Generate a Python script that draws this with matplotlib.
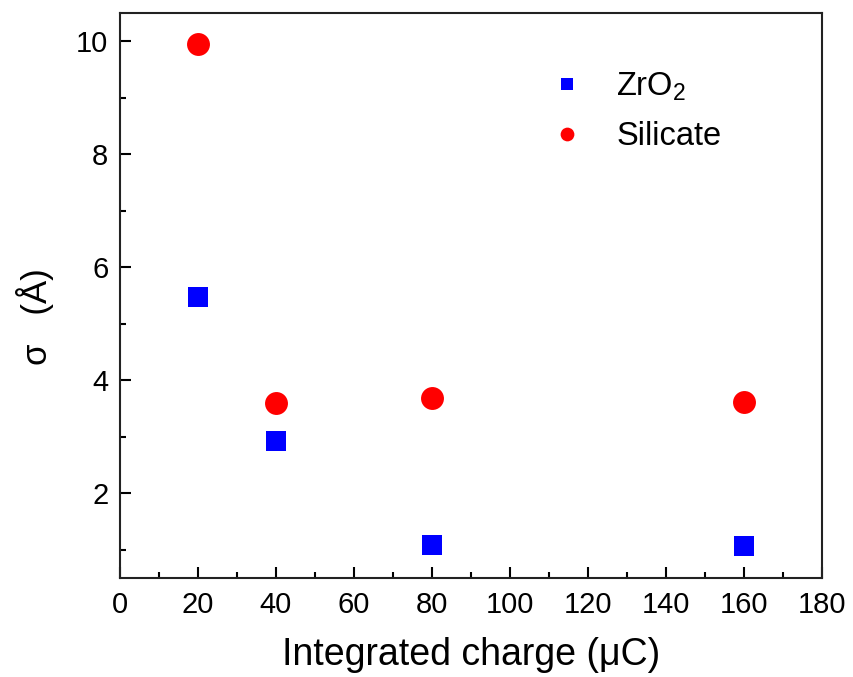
import matplotlib
matplotlib.use("Agg")
import matplotlib.pyplot as plt
from matplotlib.ticker import MultipleLocator

plt.rcParams['font.family'] = ['Liberation Sans', 'DejaVu Sans']
plt.rcParams['mathtext.fontset'] = 'custom'
plt.rcParams['mathtext.rm'] = 'Liberation Sans'
plt.rcParams['mathtext.it'] = 'Liberation Sans'

charge = [20, 40, 80, 160]
zro2 = [5.47, 2.92, 1.08, 1.07]
silicate = [9.96, 3.60, 3.69, 3.61]

fig = plt.figure(figsize=(8.54, 6.77), dpi=100)
ax = fig.add_axes([0.140, 0.1462, 0.8225, 0.8346])

ax.plot(charge, zro2, linestyle='none', marker='s', color='#0000ff', markersize=14.4,
        markeredgewidth=0, label='ZrO$_2$')
ax.plot(charge, silicate, linestyle='none', marker='o', color='#ff0000', markersize=16.5,
        markeredgewidth=0, label='Silicate')

ax.set_xlim(0, 180)
ax.set_ylim(0.5, 10.5)
ax.xaxis.set_major_locator(MultipleLocator(20))
ax.xaxis.set_minor_locator(MultipleLocator(10))
ax.yaxis.set_major_locator(MultipleLocator(2))
ax.yaxis.set_minor_locator(MultipleLocator(1))
ax.set_yticks([2, 4, 6, 8, 10])

ax.tick_params(which='both', direction='in', width=1.5, labelsize=21, top=False, right=False)
ax.tick_params(which='major', length=8)
ax.tick_params(which='minor', length=4)
ax.tick_params(axis='x', pad=9)
ax.tick_params(axis='y', pad=8)
for s in ax.spines.values():
    s.set_linewidth(1.5)
    s.set_color('#222222')

ax.set_xlabel('Integrated charge (μC)', fontsize=27, labelpad=13)
ax.set_ylabel('σ   (Å)', fontsize=25)
ax.yaxis.set_label_coords(-0.094, 0.463)

ax.legend(loc='upper left', bbox_to_anchor=(0.568, 0.95), frameon=False, fontsize=23.5,
          markerscale=0.6, handletextpad=0.9, labelspacing=0.55, handlelength=1.2)

fig.savefig('out.png', dpi=100)
